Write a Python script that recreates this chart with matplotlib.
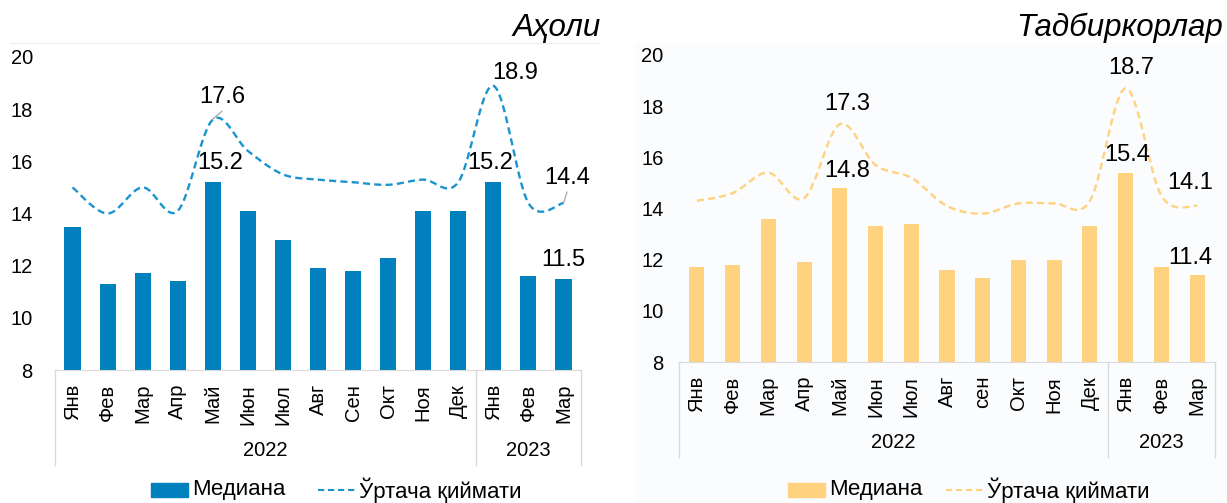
import numpy as np
import matplotlib
matplotlib.use('Agg')
import matplotlib.pyplot as plt
from matplotlib.patches import Rectangle
from matplotlib.lines import Line2D

plt.rcParams['font.family'] = ['Liberation Sans', 'DejaVu Sans']

months_a = ['Янв', 'Фев', 'Мар', 'Апр', 'Май', 'Июн', 'Июл', 'Авг', 'Сен', 'Окт', 'Ноя', 'Дек', 'Янв', 'Фев', 'Мар']
months_b = ['Янв', 'Фев', 'Мар', 'Апр', 'Май', 'Июн', 'Июл', 'Авг', 'сен', 'Окт', 'Ноя', 'Дек', 'Янв', 'Фев', 'Мар']
years = ['2022', '2023']

# Аҳоли (population)
median_a = [13.5, 11.3, 11.7, 11.4, 15.2, 14.1, 13.0, 11.9, 11.8, 12.3, 14.1, 14.1, 15.2, 11.6, 11.5]
mean_a = [15.0, 14.0, 15.0, 14.1, 17.6, 16.4, 15.5, 15.3, 15.2, 15.1, 15.3, 15.2, 18.9, 14.4, 14.4]

# Тадбиркорлар (businesses)
median_b = [11.7, 11.8, 13.6, 11.9, 14.8, 13.3, 13.4, 11.6, 11.3, 12.0, 12.0, 13.3, 15.4, 11.7, 11.4]
mean_b = [14.3, 14.6, 15.4, 14.4, 17.3, 15.7, 15.2, 14.1, 13.8, 14.2, 14.2, 14.3, 18.7, 14.5, 14.1]

legend_labels = ['Медиана', 'Ўртача қиймати']

W, H = 1227, 503
FS = 14.5
DASH = (0, (3, 1.8))


def smooth(x, y, n=20):
    # excel-like smoothed line (bezier with catmull-rom control points)
    x = np.asarray(x, float)
    y = np.asarray(y, float)
    px = np.concatenate([[x[0]], x, [x[-1]]])
    py = np.concatenate([[y[0]], y, [y[-1]]])
    xs, ys = [], []
    t = np.linspace(0, 1, n)
    for i in range(1, len(px) - 2):
        p0 = np.array([px[i], py[i]])
        p3 = np.array([px[i + 1], py[i + 1]])
        c1 = p0 + (np.array([px[i + 1], py[i + 1]]) - np.array([px[i - 1], py[i - 1]])) / 6
        c2 = p3 - (np.array([px[i + 2], py[i + 2]]) - np.array([px[i], py[i]])) / 6
        b = ((1 - t) ** 3)[:, None] * p0 + (3 * (1 - t) ** 2 * t)[:, None] * c1 \
            + (3 * (1 - t) * t ** 2)[:, None] * c2 + (t ** 3)[:, None] * p3
        xs.extend(b[:, 0])
        ys.extend(b[:, 1])
    return xs, ys


def fx(px):
    return px / W


def fy(py):
    return 1 - py / H


def legend(x_patch, x_line, bar_c, line_c):
    # hand-placed legend (patch and line have different lengths in the original)
    fig.add_artist(Rectangle((fx(x_patch), fy(497)), 37 / W, 14 / H, transform=fig.transFigure,
                             color=bar_c))
    fig.text(fx(x_patch + 41), fy(490), legend_labels[0], ha='left', va='center', fontsize=16)
    fig.add_artist(Line2D([fx(x_line), fx(x_line + 37)], [fy(490), fy(490)], transform=fig.transFigure,
                          color=line_c, lw=1.5, ls=DASH))
    fig.text(fx(x_line + 41), fy(490), legend_labels[1], ha='left', va='center', fontsize=16)


def panel(rect, months, med, mean, bar_c, line_c, subtitle, sub_x, width, ypad, labels, leaders):
    l, t, r, b = rect
    ax = fig.add_axes([l / W, (H - b) / H, (r - l) / W, (b - t) / H])
    ax.patch.set_alpha(0)
    x = np.arange(len(months))
    ax.bar(x, [v - 8 for v in med], bottom=8, width=width, color=bar_c, zorder=2)
    sx, sy = smooth(x, mean)
    ax.plot(sx, sy, color=line_c, lw=1.7, ls=DASH, zorder=3)
    ax.set_xlim(-0.5, len(months) - 0.5)
    ax.set_ylim(8, 20)
    ax.set_yticks([8, 10, 12, 14, 16, 18, 20])
    ax.tick_params(axis='y', length=0, pad=ypad, labelsize=FS)
    ax.set_xticks(x)
    ax.set_xticklabels(months, rotation=90, fontsize=FS)
    ax.tick_params(axis='x', length=0, pad=10)
    for s in ['top', 'right', 'left']:
        ax.spines[s].set_visible(False)
    ax.spines['bottom'].set_color('#d9d9d9')
    # year separators
    depth = -95 / (b - t)
    for xv in [-0.5, 11.5, len(months) - 0.5]:
        ax.plot([xv, xv], [0, depth], transform=ax.get_xaxis_transform(),
                color='#d9d9d9', lw=1, clip_on=False)
    ax.text(5.5, -80 / (b - t), years[0], transform=ax.get_xaxis_transform(),
            ha='center', va='center', fontsize=FS)
    ax.text(13, -80 / (b - t), years[1], transform=ax.get_xaxis_transform(),
            ha='center', va='center', fontsize=FS)
    # data labels
    for (i, v, dx, dy) in labels:
        ax.text(i + dx, v + dy, f'{v:.1f}', ha='center', va='center', fontsize=17)
    for (x0, y0, x1, y1) in leaders:
        ax.plot([x0, x1], [y0, y1], color='#a6a6a6', lw=0.9, zorder=4)
    fig.text(fx(sub_x), fy(28), subtitle, ha='right', va='center',
             fontsize=22.5, style='italic')
    return ax


fig = plt.figure(figsize=(W / 100, H / 100), dpi=100)
# faint frame traces of the original layout
fig.add_artist(Rectangle((fx(636), 0), 591 / W, fy(43), transform=fig.transFigure,
                         color='#fbfcfe', zorder=0))
fig.add_artist(Line2D([fx(10), fx(600)], [fy(43), fy(43)], transform=fig.transFigure,
                      color='#f0f0f0', lw=1))

panel((55, 57, 581, 370), months_a, median_a, mean_a, '#0080bd', '#1a93cf', 'Аҳоли', 601, 0.46, 16,
      [(4, 17.6, 0.28, 0.86), (4, 15.2, 0.2, 0.73), (12, 18.9, 0.63, 0.48),
       (12, 15.2, -0.1, 0.73), (14, 14.4, 0.12, 0.96), (14, 11.5, 0, 0.7)],
      [(4.26, 17.92, 4.0, 17.62), (14.1, 14.82, 14.0, 14.38)])
legend(151, 318, '#0080bd', '#1a93cf')

panel((679, 55, 1215, 362), months_b, median_b, mean_b, '#ffd27f', '#ffd27f', 'Тадбиркорлар', 1223, 0.42, 11,
      [(4, 17.3, 0.2, 0.8), (4, 14.8, 0.2, 0.65), (12, 18.7, 0.15, 0.8),
       (12, 15.4, 0.05, 0.7), (14, 14.1, -0.2, 0.9), (14, 11.4, -0.2, 0.66)],
      [])
legend(788, 946, '#ffd27f', '#ffd27f')

fig.savefig('out.png', dpi=100)
